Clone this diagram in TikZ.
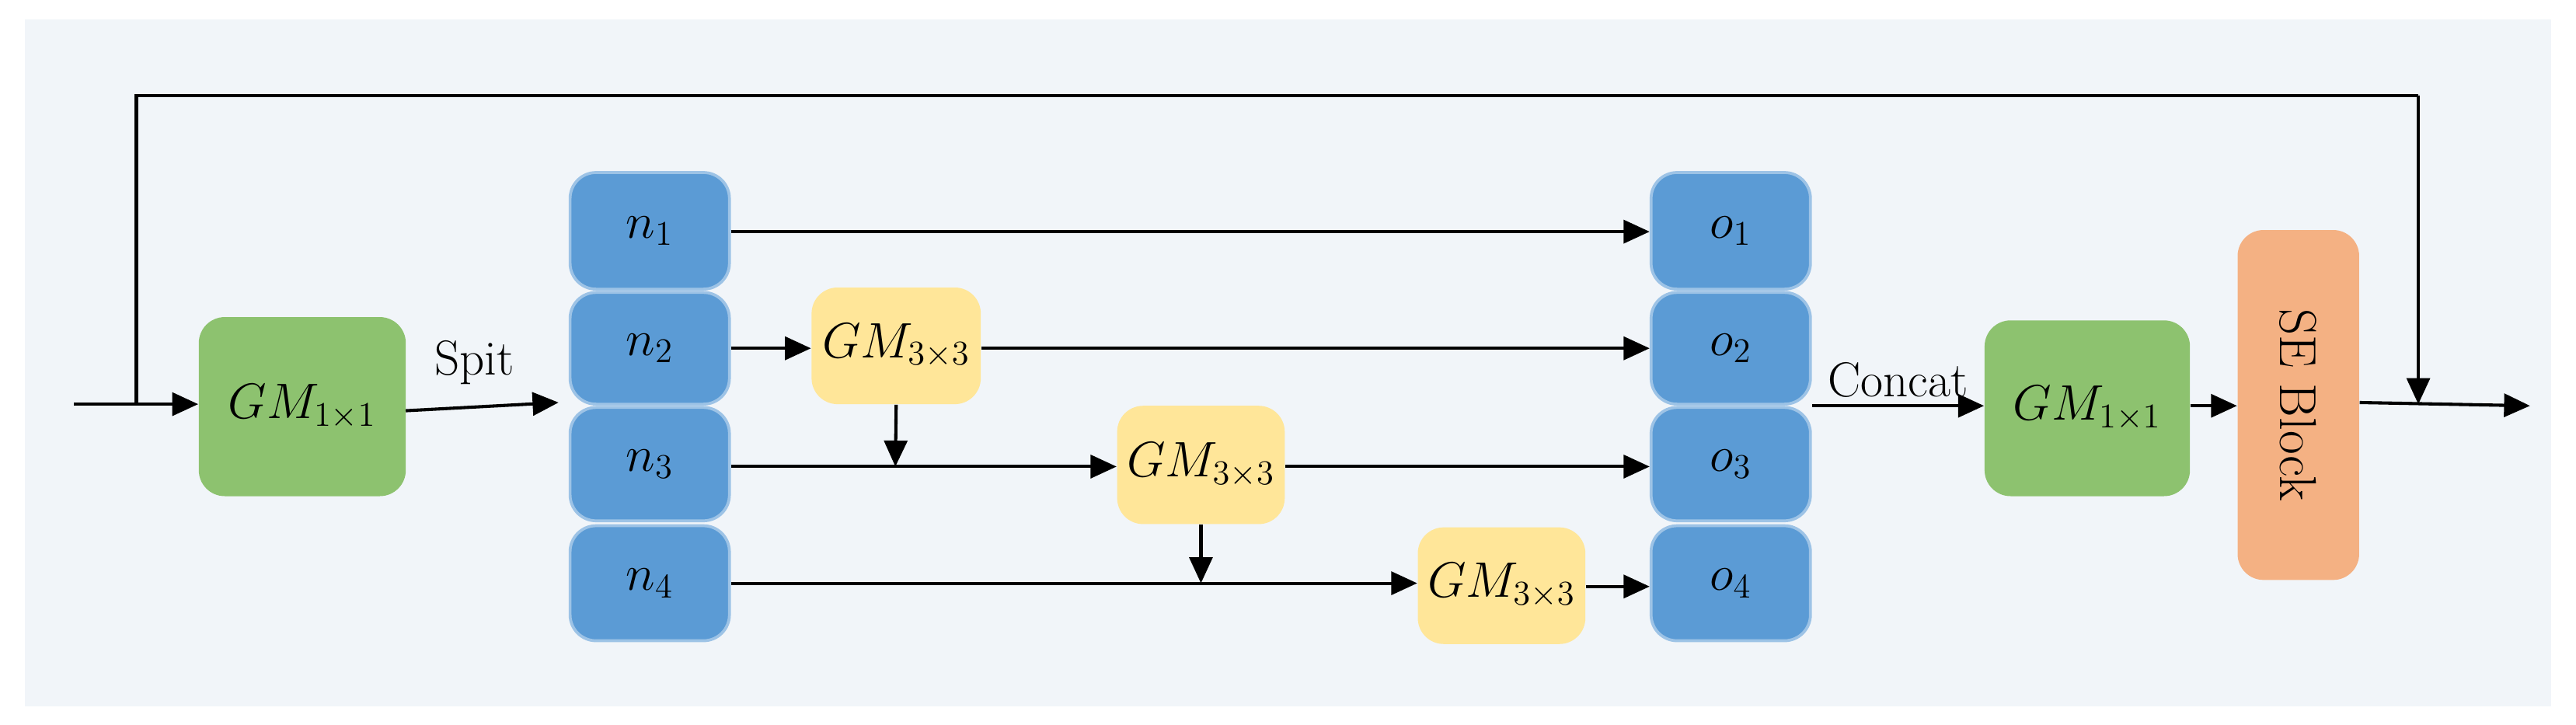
\documentclass[tikz,border=0pt]{standalone}
\usetikzlibrary{arrows.meta}
\definecolor{bg}{HTML}{F1F5F9}
\definecolor{gr}{HTML}{8DC26F}
\definecolor{bl}{HTML}{5B9BD5}
\definecolor{blb}{HTML}{9DC3E6}
\definecolor{yl}{HTML}{FFE699}
\definecolor{org}{HTML}{F4B183}
\tikzset{
 box/.style={rounded corners=9pt,inner sep=0pt,font=\fontsize{17}{20}\selectfont},
 green/.style={box,fill=gr},
 blue/.style={box,fill=bl,draw=blb,line width=1pt},
 yel/.style={box,fill=yl},
 arr/.style={-{Triangle[length=9pt,width=8pt]},line width=1.1pt},
 ln/.style={line width=1.1pt}
}
\begin{document}
\begin{tikzpicture}[x=0.02cm,y=-0.02cm]
\useasboundingbox (0,0) rectangle (1568,441);
\fill[bg] (15,12) rectangle (1553,430);
\newcommand\bx[6]{\node[#1,minimum width=#4*0.02cm-#2*0.02cm,minimum height=#5*0.02cm-#3*0.02cm] (#6) at ({(#2+#4)/2},{(#3+#5)/2})}
\bx{green}{121}{193}{247}{302}{g1} {$GM_{1\times1}$};
\bx{blue}{347}{105}{444}{176}{n1} {$n_1$};
\bx{blue}{347}{178}{444}{246}{n2} {$n_2$};
\bx{blue}{347}{248}{444}{317}{n3} {$n_3$};
\bx{blue}{347}{320}{444}{390}{n4} {$n_4$};
\bx{blue}{1005}{105}{1102}{176}{o1} {$o_1$};
\bx{blue}{1005}{178}{1102}{246}{o2} {$o_2$};
\bx{blue}{1005}{248}{1102}{317}{o3} {$o_3$};
\bx{blue}{1005}{320}{1102}{390}{o4} {$o_4$};
\bx{yel}{494}{175}{597}{246}{y1} {$GM_{3\times3}$};
\bx{yel}{680}{247}{782}{319}{y2} {$GM_{3\times3}$};
\bx{yel}{863}{321}{965}{392}{y3} {$GM_{3\times3}$};
\bx{green}{1208}{195}{1333}{302}{g2} {$GM_{1\times1}$};
\bx{box,fill=org}{1362}{140}{1436}{353}{se} {};
\node[rotate=-90,font=\fontsize{18}{20}\selectfont] at (se) {SE Block};
\coordinate (in) at (45,246);
\coordinate (sp) at (83,246);
\coordinate (out) at (1540,247);
\coordinate (jn) at (1472,246);
\draw[arr] (in) -- (g1.west|-in);
\draw[ln] (sp) -- (83,58) -- (1472,58);
\draw[arr] (1472,58) -- (jn);
\draw[arr] (247,250) -- node[above,pos=0.45,font=\fontsize{17}{20}\selectfont,yshift=4pt]{Spit} (340,245);
\draw[arr] (n1.east|-0,141) -- (o1.west|-0,141);
\draw[arr] (n2.east|-0,212) -- (y1.west|-0,212);
\draw[arr] (y1.east|-0,212) -- (o2.west|-0,212);
\draw[arr] (n3.east|-0,284) -- (y2.west|-0,284);
\draw[arr] (y2.east|-0,284) -- (o3.west|-0,284);
\draw[arr] (n4.east|-0,355) -- (y3.west|-0,355);
\draw[arr] (y3.east|-0,357) -- (o4.west|-0,357);
\draw[arr] (y1.south) -- (545,284);
\draw[arr] (y2.south) -- (731,355);
\draw[arr] (o2.east|-0,247) -- node[above,font=\fontsize{17}{20}\selectfont,yshift=-1pt]{Concat} (g2.west|-0,247);
\draw[arr] (g2.east|-0,247) -- (se.west|-0,247);
\draw[arr] (se.east|-0,245) -- (out);
\end{tikzpicture}
\end{document}
